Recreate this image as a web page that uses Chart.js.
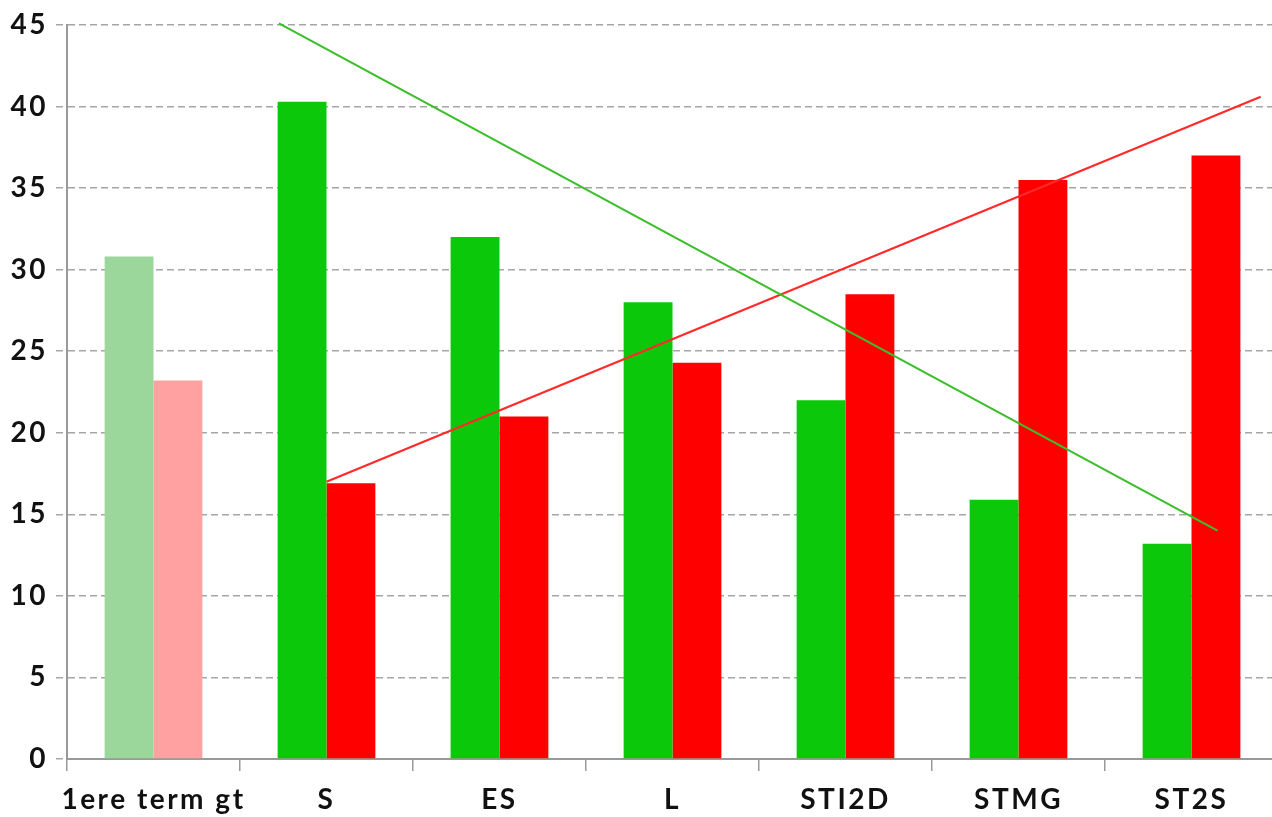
<!DOCTYPE html>
<html>
<head>
<meta charset="utf-8">
<script src="https://cdn.jsdelivr.net/npm/chart.js@4"></script>
<style>
  html, body { margin: 0; padding: 0; background: #fff; overflow: hidden; }
  #wrap { position: relative; width: 1280px; height: 817px; }
  #wrap canvas { position: absolute; left: 0; top: 0; }
</style>
</head>
<body>
<div id="wrap">
  <canvas id="graf"></canvas>
  <canvas id="tendances"></canvas>
</div>
<script>
const filieres = ['1ere term gt', 'S', 'ES', 'L', 'STI2D', 'STMG', 'ST2S'];
const serieVert = [30.8, 40.3, 32, 28, 22, 15.9, 13.2];
const serieRouge = [23.2, 16.9, 21, 24.3, 28.5, 35.5, 37];
const yTicks = [0, 5, 10, 15, 20, 25, 30, 35, 40, 45];

// tendances : position en index de catégorie, valeur
const tendanceVertX = [0.725, 6.15];
const tendanceVertY = [45.1, 14.0];
const tendanceRougeX = [1.0, 6.4];
const tendanceRougeY = [17.0, 40.6];

const coulVert = filieres.map((f, i) => i === 0 ? '#9bd69b' : '#0bc80b');
const coulRouge = filieres.map((f, i) => i === 0 ? '#ffa1a1' : '#ff0000');

const police = { family: 'Lato', size: 28, weight: 'bold' };

// marges communes aux deux graphiques (zone de tracé identique)
const axeGauche = 67;
const axeBas = 58;
const marge = { top: 25, right: 2 };

// un peu d'espacement des lettres comme dans l'original
const espacement = {
  id: 'espacement',
  beforeDraw: chart => { chart.ctx.letterSpacing = '2.5px'; }
};

new Chart(document.getElementById('graf'), {
  type: 'bar',
  data: {
    labels: filieres,
    datasets: [
      { data: serieVert, backgroundColor: coulVert, barPercentage: 1, categoryPercentage: 0.565 },
      { data: serieRouge, backgroundColor: coulRouge, barPercentage: 1, categoryPercentage: 0.565 }
    ]
  },
  options: {
    responsive: true,
    maintainAspectRatio: false,
    animation: false,
    layout: { padding: { top: marge.top, right: marge.right, left: 0, bottom: 0 } },
    plugins: { legend: { display: false }, tooltip: { enabled: false } },
    scales: {
      x: {
        grid: { display: true, drawOnChartArea: false, tickLength: 12, color: '#999', lineWidth: 1.5 },
        border: { color: '#999', width: 2 },
        ticks: { color: '#111', font: police, padding: 12, maxRotation: 0, autoSkip: false },
        afterFit: s => { s.height = axeBas; }
      },
      y: {
        min: 0, max: 45,
        afterBuildTicks: s => { s.ticks = yTicks.map(v => ({ value: v })); },
        grid: { color: '#a6a6a6', lineWidth: 1.5, tickLength: 11, tickBorderDash: [7, 4] },
        border: { color: '#999', width: 2, dash: [7, 4] },
        ticks: { color: '#111', font: police, padding: 8 },
        afterFit: s => { s.width = axeGauche; }
      }
    }
  },
  plugins: [espacement]
});

// droites de tendance, par-dessus, sur des axes linéaires cachés
new Chart(document.getElementById('tendances'), {
  type: 'line',
  data: {
    datasets: [
      {
        data: tendanceVertX.map((x, i) => ({ x: x, y: tendanceVertY[i] })),
        borderColor: '#3cbf2a', borderWidth: 2.2, pointRadius: 0, clip: false
      },
      {
        data: tendanceRougeX.map((x, i) => ({ x: x, y: tendanceRougeY[i] })),
        borderColor: '#ff2a2a', borderWidth: 2.2, pointRadius: 0, clip: false
      }
    ]
  },
  options: {
    responsive: true,
    maintainAspectRatio: false,
    animation: false,
    layout: { padding: { top: marge.top, right: marge.right, left: axeGauche, bottom: axeBas } },
    plugins: { legend: { display: false }, tooltip: { enabled: false } },
    events: [],
    scales: {
      x: { type: 'linear', display: false, min: -0.5, max: 6.5 },
      y: { type: 'linear', display: false, min: 0, max: 45 }
    }
  }
});
</script>
</body>
</html>
